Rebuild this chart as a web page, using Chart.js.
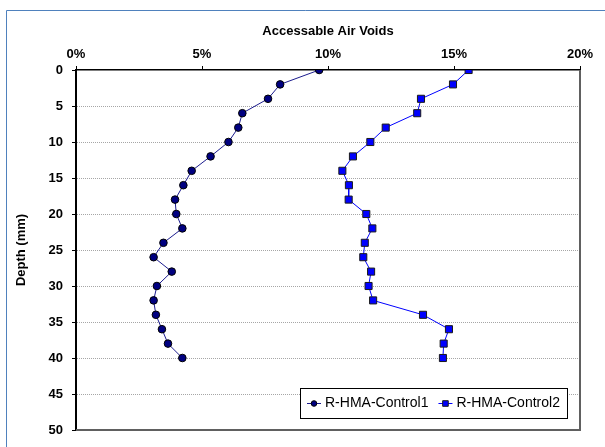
<!DOCTYPE html>
<html>
<head>
<meta charset="utf-8">
<title>Accessable Air Voids</title>
<script src="https://cdn.jsdelivr.net/npm/chart.js@4/dist/chart.umd.min.js"></script>
<style>
  html, body { margin: 0; padding: 0; background: #fff; }
  #chart { display: block; }
</style>
</head>
<body>
<canvas id="chart" width="605" height="447"></canvas>
<script>
// depth below surface (mm)
const depths = [0, 2, 4, 6, 8, 10, 12, 14, 16, 18, 20, 22, 24, 26, 28, 30, 32, 34, 36, 38, 40];
// accessible air voids (%) per depth
const control1 = [9.65, 8.10, 7.62, 6.60, 6.44, 6.05, 5.34, 4.59, 4.26, 3.93, 3.98, 4.22, 3.47, 3.08, 3.80, 3.21, 3.08, 3.17, 3.41, 3.65, 4.22];
const control2 = [15.58, 14.96, 13.69, 13.54, 12.29, 11.68, 10.99, 10.57, 10.83, 10.82, 11.52, 11.76, 11.46, 11.40, 11.71, 11.61, 11.79, 13.77, 14.80, 14.59, 14.56];
const seriesNames = ["R-HMA-Control1", "R-HMA-Control2"];
const voidTicks = [0, 5, 10, 15, 20];
const depthTicks = [0, 5, 10, 15, 20, 25, 30, 35, 40, 45, 50];

const FONT = 'Arial, "Liberation Sans", sans-serif';
Chart.defaults.font.family = FONT;
Chart.defaults.color = "#000";

function toPoints(values) {
  return depths.map((d, i) => ({ x: values[i], y: d }));
}

// small marker for the legend
function marker(ctx, ds, x, y, r) {
  ctx.fillStyle = ds.pointBackgroundColor;
  ctx.strokeStyle = ds.pointBorderColor;
  ctx.lineWidth = 1;
  ctx.beginPath();
  if (ds.pointStyle === "rect") {
    ctx.rect(x - r, y - r, r * 2, r * 2);
  } else {
    ctx.arc(x, y, r, 0, Math.PI * 2);
  }
  ctx.fill();
  ctx.stroke();
}

// outer chart frame (only top and left edges are visible)
const frame = {
  id: "frame",
  beforeDraw(chart) {
    const ctx = chart.ctx;
    ctx.save();
    ctx.strokeStyle = "#4f81bd";
    ctx.lineWidth = 1;
    ctx.beginPath();
    ctx.moveTo(6.5, chart.height);
    ctx.lineTo(6.5, 10.5);
    ctx.lineTo(chart.width, 10.5);
    ctx.stroke();
    ctx.restore();
  },
  beforeDatasetsDraw(chart) {
    // right and bottom edge of the plot area
    const { ctx, chartArea: a } = chart;
    ctx.save();
    ctx.strokeStyle = "#606060";
    ctx.lineWidth = 2;
    ctx.beginPath();
    ctx.moveTo(a.left, a.bottom);
    ctx.lineTo(a.right, a.bottom);
    ctx.lineTo(a.right, a.top);
    ctx.stroke();
    ctx.restore();
  }
};

// boxed legend inside the plot area, bottom right
const boxLegend = {
  id: "boxLegend",
  afterDatasetsDraw(chart) {
    const { ctx, chartArea: a } = chart;
    ctx.save();
    ctx.font = "14px " + FONT;
    const items = chart.data.datasets.map(ds => ({ ds, w: ctx.measureText(ds.label).width }));
    const lineLen = 14, gap = 4, pad = 7, space = 10, h = 30;
    let w = pad * 2 + space * (items.length - 1);
    items.forEach(it => { w += lineLen + gap + it.w; });
    const right = a.right - 13;
    const bottom = a.bottom - 12;
    const left = Math.round(right - w);
    const top = bottom - h;
    ctx.fillStyle = "#fff";
    ctx.fillRect(left, top, right - left, h);
    ctx.strokeStyle = "#000";
    ctx.lineWidth = 1;
    ctx.strokeRect(left + 0.5, top + 0.5, right - left, h);
    const cy = top + h / 2 + 0.5;
    let x = left + pad;
    items.forEach(it => {
      ctx.strokeStyle = it.ds.borderColor;
      ctx.lineWidth = 1;
      ctx.beginPath();
      ctx.moveTo(x, cy);
      ctx.lineTo(x + lineLen, cy);
      ctx.stroke();
      marker(ctx, it.ds, x + lineLen / 2, cy, 2.8);
      ctx.fillStyle = "#000";
      ctx.textBaseline = "middle";
      ctx.textAlign = "left";
      ctx.fillText(it.ds.label, x + lineLen + gap, cy);
      x += lineLen + gap + it.w + space;
    });
    ctx.restore();
  }
};

const ctx = document.getElementById("chart").getContext("2d");
const chart = new Chart(ctx, {
  type: "scatter",
  data: {
    datasets: [
      {
        label: seriesNames[0],
        data: toPoints(control1),
        showLine: true,
        borderColor: "#1c1c8e",
        borderWidth: 1,
        pointStyle: "circle",
        pointRadius: 3.8,
        pointBackgroundColor: "#000080",
        pointBorderColor: "#000000",
        pointBorderWidth: 1
      },
      {
        label: seriesNames[1],
        data: toPoints(control2),
        showLine: true,
        borderColor: "#0000ff",
        borderWidth: 1,
        pointStyle: "rect",
        pointRadius: 5,
        pointBackgroundColor: "#0000ff",
        pointBorderColor: "#1a1a1a",
        pointBorderWidth: 1
      }
    ]
  },
  options: {
    responsive: false,
    animation: false,
    layout: { padding: { left: 0, top: 0, right: 25, bottom: 17 } },
    plugins: {
      legend: { display: false },
      tooltip: { enabled: false }
    },
    scales: {
      x: {
        type: "linear",
        position: "top",
        min: voidTicks[0],
        max: voidTicks[voidTicks.length - 1],
        afterBuildTicks: s => { s.ticks = voidTicks.map(v => ({ value: v })); },
        afterFit: s => { s.height = 70; },
        ticks: {
          padding: 4,
          font: { size: 13, weight: "bold" },
          callback: v => v + "%"
        },
        grid: { drawOnChartArea: false, drawTicks: true, tickLength: 4, tickColor: "#000" },
        border: { color: "#000", width: 1.5 },
        title: {
          display: true,
          text: "Accessable Air Voids",
          font: { size: 13, weight: "bold" },
          padding: { top: 24, bottom: 0 }
        }
      },
      y: {
        type: "linear",
        reverse: true,
        min: depthTicks[0],
        max: depthTicks[depthTicks.length - 1],
        afterBuildTicks: s => { s.ticks = depthTicks.map(v => ({ value: v })); },
        afterFit: s => { s.width = 76; },
        ticks: {
          padding: 9,
          font: { size: 13, weight: "bold" }
        },
        grid: {
          color: c => (c.tick && (c.tick.value === 0 || c.tick.value === 50)) ? "rgba(0,0,0,0)" : "#a6a6a6",
          lineWidth: 1,
          tickLength: 4,
          tickColor: "#000",
          tickBorderDash: []
        },
        border: { color: "#000", width: 2, dash: [1, 1] },
        title: {
          display: true,
          text: "Depth (mm)",
          font: { size: 13, weight: "bold" },
          padding: { top: 14, bottom: 0 }
        }
      }
    }
  },
  plugins: [frame, boxLegend]
});
</script>
</body>
</html>
